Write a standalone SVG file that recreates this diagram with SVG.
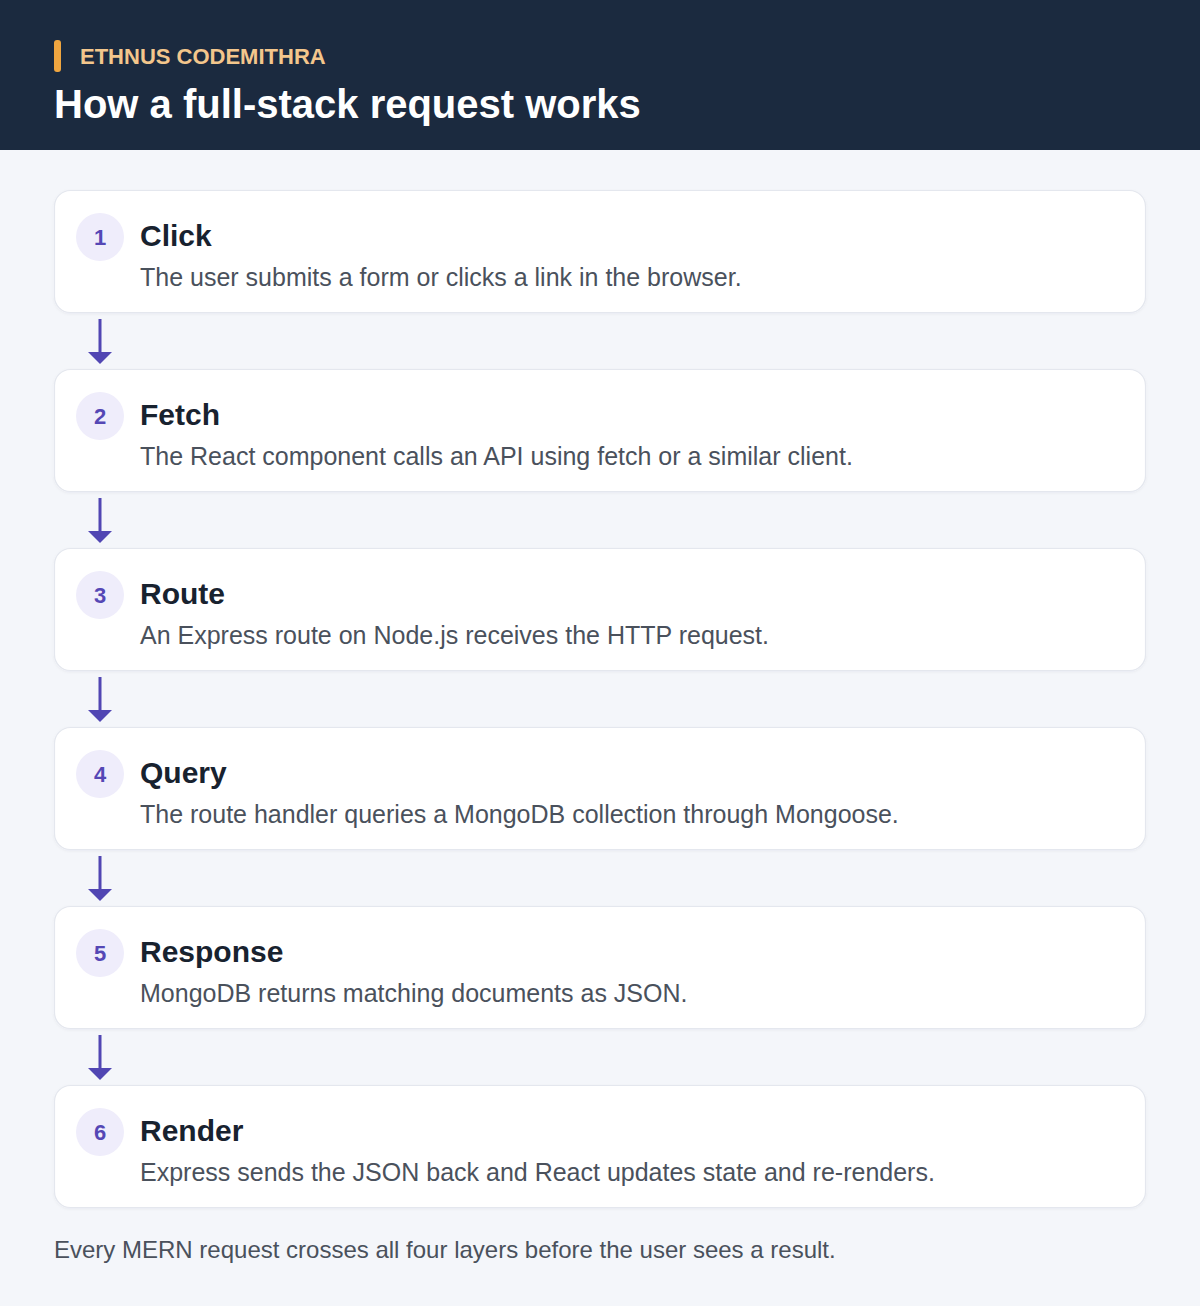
<svg xmlns="http://www.w3.org/2000/svg" width="1200" height="1306" viewBox="0 0 1200 1306">
<defs>
<style>
.card{fill:#ffffff;stroke:#e4e7ee;stroke-width:1.2}
.badge{fill:#efedfb}
.num{font-family:"Liberation Sans",Arial,sans-serif;font-size:22px;font-weight:bold;fill:#5547b5;text-anchor:middle}
.ttl{font-family:"Liberation Sans",Arial,sans-serif;font-size:30px;font-weight:bold;fill:#18222f}
.desc{font-family:"Liberation Sans",Arial,sans-serif;font-size:25px;fill:#4a515c}
.conn{stroke:#5146b3;stroke-width:3;fill:none}
.head{fill:#5146b3}
</style>
<filter id="sh" x="-5%" y="-20%" width="110%" height="140%">
<feDropShadow dx="0" dy="1" stdDeviation="1.5" flood-color="#1b2a3f" flood-opacity="0.05"/>
</filter>
</defs>
<rect x="0" y="0" width="1200" height="1306" fill="#f4f6fa"/>
<g id="header">
<rect x="0" y="0" width="1200" height="150" fill="#1b2a3f"/>
<rect x="54" y="40" width="7" height="32" rx="3" fill="#f0a640"/>
<text x="80" y="64" font-family="Liberation Sans,Arial,sans-serif" font-size="22" font-weight="bold" fill="#f3c68c">ETHNUS CODEMITHRA</text>
<text x="54" y="118" font-family="Liberation Sans,Arial,sans-serif" font-size="40" font-weight="bold" fill="#ffffff">How a full-stack request works</text>
</g>
<g id="connectors">
<line class="conn" x1="100" y1="319" x2="100" y2="354"/><polygon class="head" points="88,352 112,352 100,364"/>
<line class="conn" x1="100" y1="498" x2="100" y2="533"/><polygon class="head" points="88,531 112,531 100,543"/>
<line class="conn" x1="100" y1="677" x2="100" y2="712"/><polygon class="head" points="88,710 112,710 100,722"/>
<line class="conn" x1="100" y1="856" x2="100" y2="891"/><polygon class="head" points="88,889 112,889 100,901"/>
<line class="conn" x1="100" y1="1035" x2="100" y2="1070"/><polygon class="head" points="88,1068 112,1068 100,1080"/>
</g>
<g id="step1">
<rect class="card" filter="url(#sh)" x="54.5" y="190.5" width="1091" height="122" rx="16"/>
<circle class="badge" cx="100" cy="237" r="24"/>
<text class="num" x="100" y="245">1</text>
<text class="ttl" x="140" y="246">Click</text>
<text class="desc" x="140" y="286">The user submits a form or clicks a link in the browser.</text>
</g>
<g id="step2">
<rect class="card" filter="url(#sh)" x="54.5" y="369.5" width="1091" height="122" rx="16"/>
<circle class="badge" cx="100" cy="416" r="24"/>
<text class="num" x="100" y="424">2</text>
<text class="ttl" x="140" y="425">Fetch</text>
<text class="desc" x="140" y="465">The React component calls an API using fetch or a similar client.</text>
</g>
<g id="step3">
<rect class="card" filter="url(#sh)" x="54.5" y="548.5" width="1091" height="122" rx="16"/>
<circle class="badge" cx="100" cy="595" r="24"/>
<text class="num" x="100" y="603">3</text>
<text class="ttl" x="140" y="604">Route</text>
<text class="desc" x="140" y="644">An Express route on Node.js receives the HTTP request.</text>
</g>
<g id="step4">
<rect class="card" filter="url(#sh)" x="54.5" y="727.5" width="1091" height="122" rx="16"/>
<circle class="badge" cx="100" cy="774" r="24"/>
<text class="num" x="100" y="782">4</text>
<text class="ttl" x="140" y="783">Query</text>
<text class="desc" x="140" y="823">The route handler queries a MongoDB collection through Mongoose.</text>
</g>
<g id="step5">
<rect class="card" filter="url(#sh)" x="54.5" y="906.5" width="1091" height="122" rx="16"/>
<circle class="badge" cx="100" cy="953" r="24"/>
<text class="num" x="100" y="961">5</text>
<text class="ttl" x="140" y="962">Response</text>
<text class="desc" x="140" y="1002">MongoDB returns matching documents as JSON.</text>
</g>
<g id="step6">
<rect class="card" filter="url(#sh)" x="54.5" y="1085.5" width="1091" height="122" rx="16"/>
<circle class="badge" cx="100" cy="1132" r="24"/>
<text class="num" x="100" y="1140">6</text>
<text class="ttl" x="140" y="1141">Render</text>
<text class="desc" x="140" y="1181">Express sends the JSON back and React updates state and re-renders.</text>
</g>
<text id="footer" x="54" y="1258" font-family="Liberation Sans,Arial,sans-serif" font-size="24" fill="#4a515c">Every MERN request crosses all four layers before the user sees a result.</text>
</svg>
